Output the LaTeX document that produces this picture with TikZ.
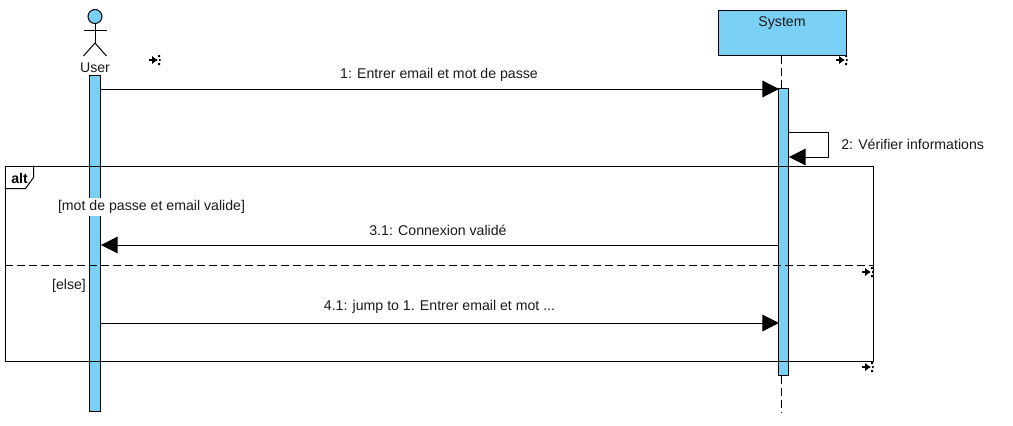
\documentclass[tikz,border=0pt]{standalone}
\usepackage{fontspec}
\setmainfont{Liberation Sans}
\usetikzlibrary{arrows.meta,positioning,calc}
\definecolor{barblue}{HTML}{7ACFF5}

\begin{document}
\begin{tikzpicture}[x=0.75pt,y=-0.75pt]
	\tikzset{
		mybar/.style={rectangle,draw=black,fill=barblue,line width=0.7pt,inner sep=0pt},
		mybox/.style={rectangle,draw=black,fill=barblue,line width=0.75pt,inner sep=0pt,minimum width=96pt,minimum height=33.75pt},
		myframe/.style={rectangle,draw=black,line width=0.75pt,inner sep=0pt,minimum width=651pt,minimum height=146.25pt},
		myarrow/.style={-{Triangle[length=12.5pt,width=12.5pt]},line width=0.75pt},
		myline/.style={line width=0.75pt},
		mydash/.style={line width=0.75pt,dash pattern=on 6pt off 3pt},
		mylabel/.style={inner sep=0pt,font=\fontsize{10.6}{12}\selectfont,text=black!90},
		myguard/.style={mylabel,fill=white,inner xsep=1pt,inner ysep=1.5pt},
		mymark/.style={-{Latex[length=4.5pt,width=6.5pt]},line width=1.3pt}
	}
	\useasboundingbox (0,0) rectangle (1013,425);

	% lifelines
	\node[mybox] (sysBox) at (782,32.5) {};
	\node[mylabel] (sysName) at (782,23.5) {System};
	\node[mybar,minimum width=8.25pt,minimum height=252pt,anchor=north] at (95,75) (userBar) {};
	\node[mybar,minimum width=7.5pt,minimum height=215.25pt,anchor=north] at (783.5,88) (sysBar) {};
	\coordinate (sysEnd) at (781.5,413);
	\draw[mydash] (sysEnd |- sysBox.south) -- (sysEnd |- sysBar.north);
	\draw[mydash,line width=0.6pt] (sysEnd |- sysBar.south) -- (sysEnd);

	% actor
	\node[circle,draw=black,fill=barblue,line width=0.75pt,minimum size=10.5pt,inner sep=0pt] (userHead) at (95,16.5) {};
	\coordinate (userHip) at (95,43);
	\draw[myline] (userHead.south) -- (userHip);
	\draw[myline] (83.5,30) -- (106.5,30);
	\draw[myline] (83.5,56) -- (userHip) -- (106.5,56);
	\node[mylabel] (userName) at (95,68) {User};

	% alt frame
	\node[myframe,anchor=north west] (altFrame) at (4.5,165.5) {};
	\node[inner sep=0pt,font=\fontsize{10.6}{12}\selectfont\bfseries] (altName) at (19.5,178.5) {alt};
	\draw[myline] (altFrame.north west) ++(29,0) -- ++(0,12) -- ++(-8,11) -- ++(-21,0);
	\coordinate (altSplit) at (altFrame.west |- 0,265.5);
	\draw[mydash] (altSplit) -- (altFrame.east |- altSplit);
	\node[myguard] (guardA) at (151.5,207) {[mot de passe et email valide]};
	\node[myguard] (guardB) at (69,285.5) {[else]};

	% messages
	\coordinate (msgA) at (0,89);
	\coordinate (msgB) at (0,245);
	\coordinate (msgC) at (0,323);
	\draw[myarrow] (userBar.east |- msgA) -- ([xshift=0.75pt]sysBar.west |- msgA);
	\node[mylabel] (labelA) at (439,74.5) {1: Entrer email et mot de passe};
	\draw[myarrow] (sysBar.west |- msgB) -- (userBar.east |- msgB);
	\node[mylabel] (labelB) at (438,230.5) {3.1: Connexion validé};
	\draw[myarrow] (userBar.east |- msgC) -- ([xshift=0.75pt]sysBar.west |- msgC);
	\node[mylabel] (labelC) at (439.5,306.5) {4.1: jump to 1. Entrer email et mot ...};

	% self message
	\coordinate (selfTop) at (0,132);
	\coordinate (selfBot) at (0,157);
	\draw[myarrow] (sysBar.east |- selfTop) -- (828,132) -- (828,157) -- (sysBar.east |- selfBot);
	\node[mylabel,anchor=west] (labelSelf) at (841,144) {2: Vérifier informations};

	% resize marks
	\foreach \mx/\my in {155/60,842/60,868/272,868/367} {
		\draw[mymark] (\mx-6,\my) -- (\mx+3,\my);
		\fill (\mx+3,\my-5) rectangle ++(2,2) (\mx+3,\my+3) rectangle ++(2,2) (\mx+4,\my-1) rectangle ++(1.5,2);
	}
\end{tikzpicture}
\end{document}
